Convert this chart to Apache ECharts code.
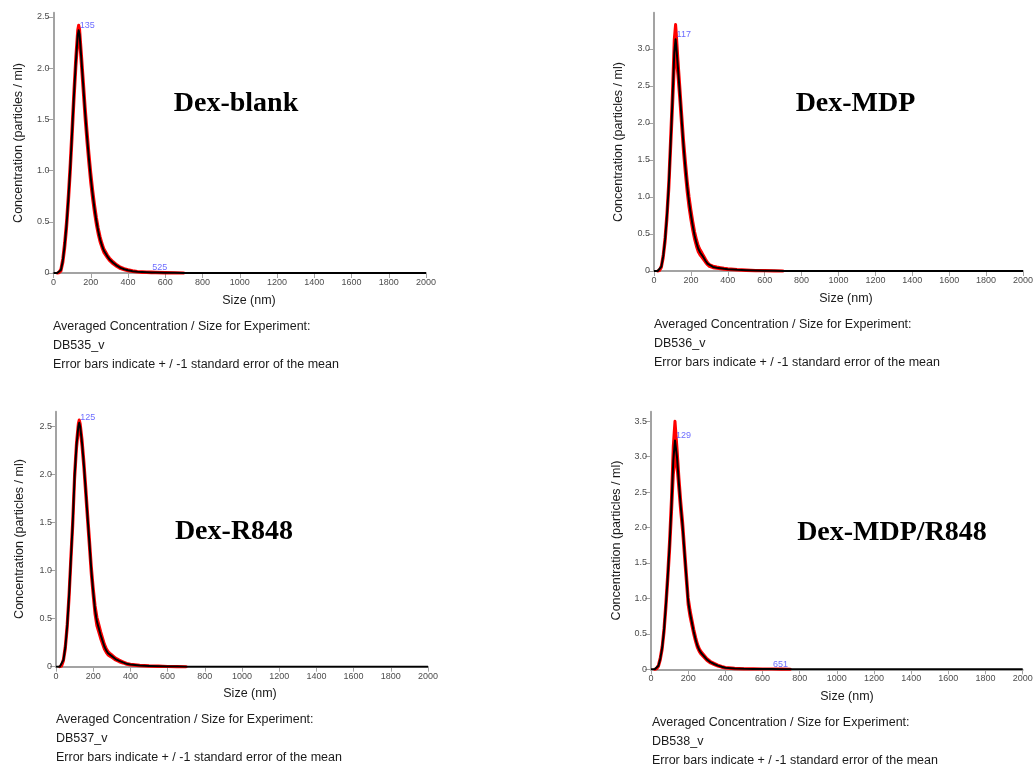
<!DOCTYPE html>
<html>
<head>
<meta charset="utf-8">
<script src="https://cdn.jsdelivr.net/npm/echarts@6/dist/echarts.min.js"></script>
<style>
  html, body { margin: 0; padding: 0; background: #fff; }
  #chart { width: 1036px; height: 767px; }
</style>
</head>
<body>
<div id="chart"></div>
<script>
// Nanoparticle tracking: averaged concentration vs. size, four formulations.
const panelNames = ['Dex-blank', 'Dex-MDP', 'Dex-R848', 'Dex-MDP/R848'];
const experimentIds = ['DB535_v', 'DB536_v', 'DB537_v', 'DB538_v'];
const footnoteHead = 'Averaged Concentration / Size for Experiment:';
const footnoteTail = 'Error bars indicate + / -1 standard error of the mean';
const xTitle = 'Size (nm)';
const yTitle = 'Concentration (particles / ml)';

// Dex-blank
const sizes1 = [0, 10, 20, 30, 40, 50, 60, 70, 80, 90, 100, 110, 120, 130, 135, 140, 150, 160, 170, 180, 190, 200,
  210, 220, 230, 240, 250, 260, 270, 280, 290, 300, 320, 340, 360, 380, 400, 425, 450, 475, 500, 525, 550, 600, 650,
  700, 1000, 1500, 2000];
const conc1 = [0, 0, 0, 0.005, 0.03, 0.12, 0.27, 0.47, 0.73, 1.03, 1.38, 1.74, 2.06, 2.32, 2.37, 2.33, 2.08, 1.82, 1.56, 1.33, 1.12, 0.93,
  0.77, 0.63, 0.51, 0.41, 0.33, 0.27, 0.22, 0.19, 0.16, 0.135, 0.1, 0.072, 0.05, 0.037, 0.027, 0.018, 0.012, 0.009, 0.007, 0.006, 0.005, 0.003, 0.002,
  0, 0, 0, 0];
const sem1 = [0, 0, 0, 0.003, 0.01, 0.02, 0.03, 0.035, 0.04, 0.045, 0.05, 0.05, 0.05, 0.05, 0.05, 0.05, 0.05, 0.055, 0.055, 0.055, 0.05, 0.05,
  0.045, 0.04, 0.035, 0.03, 0.025, 0.02, 0.018, 0.015, 0.013, 0.012, 0.01, 0.008, 0.007, 0.006, 0.005, 0.004, 0.003, 0.003, 0.003, 0.003, 0.002, 0.002, 0.001,
  0, 0, 0, 0];
const peaks1 = [135, 525];
const yTicks1 = [0, 0.5, 1, 1.5, 2, 2.5];

// Dex-MDP
const sizes2 = [0, 10, 20, 30, 40, 50, 60, 70, 80, 90, 100, 110, 117, 120, 130, 140, 150, 160, 170, 180, 190, 200,
  210, 220, 230, 240, 250, 260, 270, 280, 290, 300, 320, 340, 360, 380, 400, 450, 500, 550, 600, 650,
  700, 1000, 1500, 2000];
const conc2 = [0, 0, 0, 0.01, 0.06, 0.2, 0.42, 0.74, 1.15, 1.72, 2.3, 2.95, 3.13, 3.06, 2.74, 2.4, 2.04, 1.69, 1.4, 1.14, 0.93, 0.76,
  0.61, 0.48, 0.38, 0.3, 0.25, 0.215, 0.175, 0.135, 0.1, 0.075, 0.055, 0.045, 0.037, 0.03, 0.025, 0.016, 0.01, 0.006, 0.004, 0.002,
  0, 0, 0, 0];
const sem2 = [0, 0, 0, 0.005, 0.01, 0.02, 0.03, 0.04, 0.05, 0.07, 0.1, 0.18, 0.2, 0.17, 0.1, 0.08, 0.08, 0.08, 0.08, 0.075, 0.07, 0.065,
  0.06, 0.05, 0.045, 0.04, 0.035, 0.03, 0.025, 0.02, 0.015, 0.012, 0.01, 0.008, 0.007, 0.006, 0.005, 0.004, 0.003, 0.002, 0.002, 0.001,
  0, 0, 0, 0];
const peaks2 = [117];
const yTicks2 = [0, 0.5, 1, 1.5, 2, 2.5, 3];

// Dex-R848
const sizes3 = [0, 10, 20, 30, 40, 50, 60, 70, 80, 90, 100, 110, 120, 125, 130, 140, 150, 160, 170, 180, 190, 200,
  210, 220, 230, 240, 250, 260, 270, 280, 290, 300, 320, 340, 360, 380, 400, 450, 500, 550, 600, 650,
  700, 1000, 1500, 2000];
const conc3 = [0, 0, 0, 0.01, 0.07, 0.2, 0.42, 0.73, 1.12, 1.5, 1.98, 2.3, 2.5, 2.54, 2.5, 2.33, 2.1, 1.83, 1.55, 1.28, 1.0, 0.78,
  0.59, 0.47, 0.4, 0.33, 0.27, 0.21, 0.17, 0.14, 0.125, 0.11, 0.08, 0.06, 0.045, 0.03, 0.022, 0.012, 0.007, 0.004, 0.002, 0.001,
  0, 0, 0, 0];
const sem3 = [0, 0, 0, 0.003, 0.008, 0.015, 0.02, 0.025, 0.03, 0.03, 0.03, 0.03, 0.03, 0.03, 0.03, 0.035, 0.035, 0.04, 0.04, 0.04, 0.04, 0.04,
  0.045, 0.045, 0.04, 0.035, 0.03, 0.025, 0.02, 0.018, 0.015, 0.013, 0.01, 0.008, 0.006, 0.005, 0.004, 0.003, 0.002, 0.002, 0.001, 0.001,
  0, 0, 0, 0];
const peaks3 = [125];
const yTicks3 = [0, 0.5, 1, 1.5, 2, 2.5];

// Dex-MDP/R848
const sizes4 = [0, 10, 20, 30, 40, 50, 60, 70, 80, 90, 100, 110, 120, 129, 140, 150, 160, 170, 180, 190, 200,
  210, 220, 230, 240, 250, 260, 270, 280, 290, 300, 320, 340, 360, 380, 400, 450, 500, 550, 600, 651,
  700, 750, 800, 1000, 1500, 2000];
const conc4 = [0, 0, 0, 0.01, 0.05, 0.15, 0.3, 0.55, 0.9, 1.3, 1.75, 2.3, 2.95, 3.23, 2.99, 2.63, 2.3, 2.02, 1.66, 1.31, 0.96,
  0.79, 0.66, 0.53, 0.42, 0.33, 0.27, 0.23, 0.2, 0.17, 0.14, 0.1, 0.075, 0.052, 0.035, 0.022, 0.012, 0.007, 0.005, 0.004, 0.004,
  0.002, 0.001, 0, 0, 0, 0];
const sem4 = [0, 0, 0, 0.004, 0.008, 0.015, 0.02, 0.03, 0.04, 0.05, 0.07, 0.1, 0.2, 0.27, 0.12, 0.08, 0.07, 0.065, 0.06, 0.055, 0.05,
  0.045, 0.04, 0.035, 0.03, 0.025, 0.02, 0.018, 0.016, 0.014, 0.012, 0.01, 0.008, 0.006, 0.005, 0.004, 0.003, 0.002, 0.002, 0.001, 0.001,
  0.001, 0, 0, 0, 0, 0];
const peaks4 = [129, 651];
const yTicks4 = [0, 0.5, 1, 1.5, 2, 2.5, 3, 3.5];

const panels = [
  { sizes: sizes1, conc: conc1, sem: sem1, peaks: peaks1, yTicks: yTicks1 },
  { sizes: sizes2, conc: conc2, sem: sem2, peaks: peaks2, yTicks: yTicks2 },
  { sizes: sizes3, conc: conc3, sem: sem3, peaks: peaks3, yTicks: yTicks3 },
  { sizes: sizes4, conc: conc4, sem: sem4, peaks: peaks4, yTicks: yTicks4 }
];

// Placement of each plot and its surrounding text
const layout = [
  { left: 53.5, top: 12.7, width: 372.5, height: 260.3, yMax: 2.542,
    title: [236, 104], xName: [249, 300.5], yName: [18.7, 143], note: [53, 326.5] },
  { left: 654, top: 12.7, width: 370, height: 258.3, yMax: 3.49,
    title: [855.5, 104], xName: [846, 298.5], yName: [619, 142], note: [654, 324.5] },
  { left: 56, top: 411.7, width: 372, height: 255, yMax: 2.656,
    title: [234, 532], xName: [250, 693.5], yName: [20, 539], note: [56, 719.5] },
  { left: 651, top: 411.7, width: 371.7, height: 257.6, yMax: 3.635,
    title: [892, 533], xName: [847, 696.5], yName: [616.3, 540.5], note: [652, 722.7] }
];

const AXIS_GREY = '#a3a3a3';
const SANS = '"Liberation Sans", Arial, sans-serif';

const grids = [], xAxes = [], yAxes = [], series = [], graphics = [];

panels.forEach((p, k) => {
  const L = layout[k];
  grids.push({ left: L.left, top: L.top, width: L.width, height: L.height });
  xAxes.push({
    type: 'value', gridIndex: k, min: 0, max: 2000, interval: 200,
    axisLine: { show: true, onZero: false, lineStyle: { color: AXIS_GREY, width: 2 } },
    axisTick: { show: true, inside: false, length: 5, lineStyle: { color: AXIS_GREY, width: 1 } },
    axisLabel: { fontSize: 9, fontFamily: SANS, color: '#4d4d4d', margin: 5, formatter: v => String(v) },
    splitLine: { show: false }
  });
  yAxes.push({
    type: 'value', gridIndex: k, min: 0, max: L.yMax,
    axisLine: { show: true, onZero: false, lineStyle: { color: AXIS_GREY, width: 2 } },
    axisTick: { show: true, inside: false, length: 6, customValues: p.yTicks, lineStyle: { color: AXIS_GREY, width: 1 } },
    axisLabel: { fontSize: 9, fontFamily: SANS, color: '#4d4d4d', margin: 4, customValues: p.yTicks,
      formatter: v => (v === 0 ? '0' : v.toFixed(1)) },
    splitLine: { show: false }
  });

  // [size, mean - sem, mean + sem], limited to where an error exists (plus one point either side)
  let first = p.sem.findIndex(e => e > 0);
  let last = p.sem.length - 1;
  while (last > 0 && p.sem[last] === 0) last--;
  first = Math.max(0, first - 1);
  last = Math.min(p.sem.length - 1, last + 1);
  const band = [];
  for (let i = first; i <= last; i++) band.push([p.sizes[i], p.conc[i] - p.sem[i], p.conc[i] + p.sem[i]]);
  const mean = p.sizes.map((s, i) => [s, p.conc[i]]);
  const peakPts = p.peaks.map(s => [s, p.conc[p.sizes.indexOf(s)]]);

  // standard-error band: one red polygon through upper bounds, back along lower bounds
  series.push({
    type: 'custom', xAxisIndex: k, yAxisIndex: k, data: band, silent: true, z: 2,
    encode: { x: 0, y: [1, 2] },
    renderItem: (params, api) => {
      if (params.dataIndex !== 0) return null;
      const upper = band.map(d => api.coord([d[0], d[2]]));
      const lowerPts = band.map(d => api.coord([d[0], d[1]])).reverse();
      return {
        type: 'polygon',
        shape: { points: upper.concat(lowerPts) },
        style: { fill: '#ff0000', stroke: '#ff0000', lineWidth: 3, lineJoin: 'round' }
      };
    }
  });
  // averaged concentration
  series.push({
    type: 'line', xAxisIndex: k, yAxisIndex: k, data: mean,
    smooth: false, symbol: 'none', silent: true,
    lineStyle: { color: '#000000', width: 2, join: 'round' }, z: 3
  });
  // peak size annotations
  series.push({
    type: 'scatter', xAxisIndex: k, yAxisIndex: k, data: peakPts,
    symbolSize: 0, silent: true, z: 4,
    label: {
      show: true, position: 'right', distance: 1, offset: [0, -5],
      formatter: d => String(d.value[0]),
      fontSize: 9, fontFamily: SANS, color: '#4646ff'
    }
  });

  graphics.push({
    type: 'text', x: L.title[0], y: L.title[1], z: 10,
    style: { text: panelNames[k], fill: '#000', font: 'bold 28px "Liberation Serif", "Times New Roman", serif',
      textAlign: 'center', textVerticalAlign: 'middle', align: 'center', verticalAlign: 'middle' }
  });
  graphics.push({
    type: 'text', x: L.xName[0], y: L.xName[1], z: 10,
    style: { text: xTitle, fill: '#1a1a1a', font: '12.5px ' + SANS,
      textAlign: 'center', textVerticalAlign: 'middle', align: 'center', verticalAlign: 'middle' }
  });
  graphics.push({
    type: 'text', x: L.yName[0], y: L.yName[1], rotation: Math.PI / 2, z: 10,
    style: { text: yTitle, fill: '#1a1a1a', font: '12.5px ' + SANS,
      textAlign: 'center', textVerticalAlign: 'middle', align: 'center', verticalAlign: 'middle' }
  });
  [footnoteHead, experimentIds[k], footnoteTail].forEach((line, j) => {
    graphics.push({
      type: 'text', x: L.note[0], y: L.note[1] + j * 18.8, z: 10,
      style: { text: line, fill: '#1a1a1a', font: '12.5px ' + SANS,
        textAlign: 'left', textVerticalAlign: 'middle', align: 'left', verticalAlign: 'middle' }
    });
  });
});

const chart = echarts.init(document.getElementById('chart'), null, { renderer: 'canvas' });
chart.setOption({
  animation: false,
  backgroundColor: '#ffffff',
  grid: grids,
  xAxis: xAxes,
  yAxis: yAxes,
  series: series,
  graphic: graphics
});
</script>
</body>
</html>
